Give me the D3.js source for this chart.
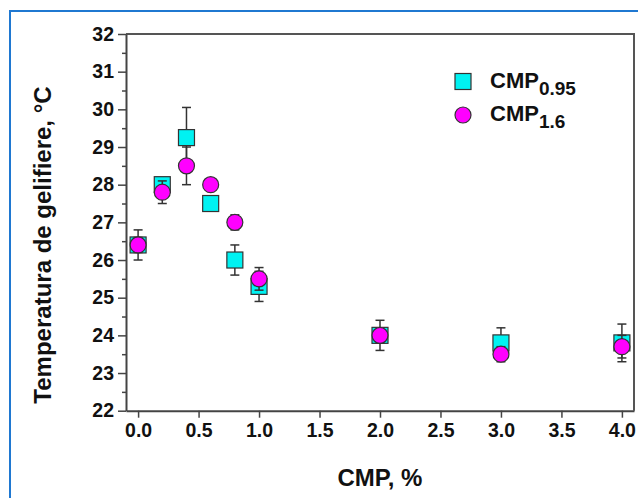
<!DOCTYPE html>
<html>
<head>
<meta charset="utf-8">
<script src="https://cdn.jsdelivr.net/npm/d3@7"></script>
<style>
  body { margin: 0; background: #fff; }
  svg { display: block; font-family: "Liberation Sans", Arial, sans-serif; }
  .tick text { font-weight: bold; fill: #111; }
</style>
</head>
<body>
<svg id="chart" width="638" height="498"></svg>
<script>
// concentration of CMP, %
var cmp = [0, 0.2, 0.4, 0.6, 0.8, 1.0, 2.0, 3.0, 4.0];
// CMP 0.95 series (squares)
var temp095 = [26.4, 28.0, 29.25, 27.5, 26.0, 25.3, 24.0, 23.8, 23.8];
var err095  = [0.4, 0.1, 0.8, 0.1, 0.4, 0.4, 0.4, 0.4, 0.5];
// CMP 1.6 series (circles)
var temp16 = [26.4, 27.8, 28.5, 28.0, 27.0, 25.5, 24.0, 23.5, 23.7];
var err16  = [0.2, 0.3, 0.5, 0.15, 0.2, 0.3, 0.2, 0.2, 0.3];
var xTicks = [0, 0.5, 1, 1.5, 2, 2.5, 3, 3.5, 4];
var yTicks = [22, 23, 24, 25, 26, 27, 28, 29, 30, 31, 32];

var svg = d3.select("#chart");
var axisColor = "#444";

// blue outer frame
svg.append("rect")
  .attr("x", 10).attr("y", 11)
  .attr("width", 660).attr("height", 520)
  .attr("fill", "none")
  .attr("stroke", "#1f78d1")
  .attr("stroke-width", 2);

var x = d3.scaleLinear().domain([-0.1, 4.1]).range([126, 634]);
var y = d3.scaleLinear().domain([22, 32]).range([410.7, 34]);

// frame top + right
svg.append("path")
  .attr("d", "M" + x(-0.1) + "," + y(32) + "H" + x(4.1) + "V" + y(22))
  .attr("fill", "none")
  .attr("stroke", "#555")
  .attr("stroke-width", 2);

// y minor ticks
var gyMinor = svg.append("g")
  .attr("transform", "translate(" + x(-0.1) + ",0)")
  .call(d3.axisLeft(y).tickValues(d3.range(22.5, 32, 1)).tickSize(4).tickFormat(""));
gyMinor.select(".domain").remove();
gyMinor.selectAll("line").attr("stroke", axisColor).attr("stroke-width", 1.5);

var gy = svg.append("g")
  .attr("transform", "translate(" + x(-0.1) + ",0)")
  .call(d3.axisLeft(y).tickValues(yTicks).tickSize(8).tickSizeOuter(0).tickPadding(4).tickFormat(d3.format("d")));
gy.selectAll("text").style("font-size", "19.5px");

var gx = svg.append("g")
  .attr("transform", "translate(0," + y(22) + ")")
  .call(d3.axisBottom(x).tickValues(xTicks).tickSize(7).tickSizeOuter(0).tickPadding(5).tickFormat(d3.format(".1f")));
gx.selectAll("text").style("font-size", "19.5px");

[gx, gy].forEach(function(g) {
  g.select(".domain").attr("stroke", axisColor).attr("stroke-width", 2);
  g.selectAll(".tick line").attr("stroke", axisColor).attr("stroke-width", 1.5);
});

// axis titles
svg.append("text")
  .attr("transform", "translate(51,245) rotate(-90)")
  .attr("text-anchor", "middle")
  .style("font-size", "24px")
  .style("font-weight", "bold")
  .attr("fill", "#111")
  .text("Temperatura de gelifiere, °C");

svg.append("text")
  .attr("x", 380).attr("y", 486)
  .attr("text-anchor", "middle")
  .style("font-size", "24px")
  .style("font-weight", "bold")
  .attr("fill", "#111")
  .text("CMP, %");

function errorBars(vals, errs) {
  var g = svg.append("g").attr("stroke", "#333").attr("stroke-width", 1.5);
  cmp.forEach(function(c, i) {
    var cx = x(c), y1 = y(vals[i] - errs[i]), y2 = y(vals[i] + errs[i]);
    g.append("line").attr("x1", cx).attr("x2", cx).attr("y1", y1).attr("y2", y2);
    g.append("line").attr("x1", cx - 4.5).attr("x2", cx + 4.5).attr("y1", y1).attr("y2", y1);
    g.append("line").attr("x1", cx - 4.5).attr("x2", cx + 4.5).attr("y1", y2).attr("y2", y2);
  });
}

var sq = 16;
errorBars(temp095, err095);
svg.append("g").selectAll("rect")
  .data(temp095)
  .join("rect")
  .attr("x", function(d, i) { return x(cmp[i]) - sq / 2; })
  .attr("y", function(d) { return y(d) - sq / 2; })
  .attr("width", sq).attr("height", sq)
  .attr("fill", "#00f2f2")
  .attr("stroke", "#333")
  .attr("stroke-width", 1.2);

errorBars(temp16, err16);
svg.append("g").selectAll("circle")
  .data(temp16)
  .join("circle")
  .attr("cx", function(d, i) { return x(cmp[i]); })
  .attr("cy", function(d) { return y(d); })
  .attr("r", 8)
  .attr("fill", "#ff00ff")
  .attr("stroke", "#333")
  .attr("stroke-width", 1.2);

// legend
var leg = svg.append("g");
leg.append("rect")
  .attr("x", 463 - sq / 2).attr("y", 81.5 - sq / 2)
  .attr("width", sq).attr("height", sq)
  .attr("fill", "#00f2f2").attr("stroke", "#333").attr("stroke-width", 1.2);
leg.append("circle")
  .attr("cx", 463).attr("cy", 115).attr("r", 8)
  .attr("fill", "#ff00ff").attr("stroke", "#333").attr("stroke-width", 1.2);

var labels = [["CMP", "0.95", 87.5], ["CMP", "1.6", 121]];
labels.forEach(function(l) {
  var t = leg.append("text")
    .attr("x", 490).attr("y", l[2])
    .style("font-weight", "bold")
    .attr("fill", "#111");
  t.append("tspan").style("font-size", "22px").text(l[0]);
  t.append("tspan").attr("dy", 7).style("font-size", "19px").text(l[1]);
});
</script>
</body>
</html>
